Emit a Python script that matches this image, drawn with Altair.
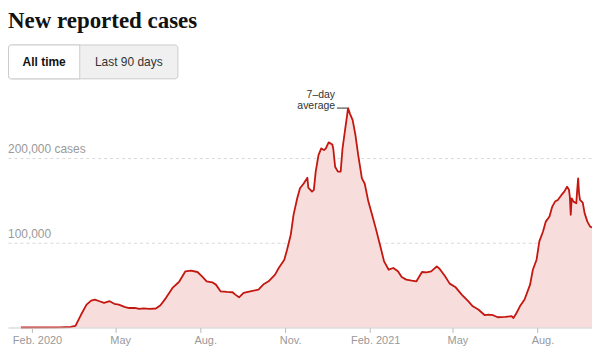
import altair as alt
import pandas as pd

# ---- data ----
# days since 2020-02-01, 7-day average of new reported cases
days = [-12, 30, 42, 47, 53, 59, 64, 68, 73, 78,
        84, 89, 94, 100, 105, 111, 116, 121, 127, 134,
        139, 145, 152, 159, 166, 172, 179, 184, 189, 195,
        199, 204, 211, 217, 220, 224, 229, 235, 245, 251,
        256, 263, 267, 273, 276, 280, 283, 287, 290, 294,
        298, 299, 303, 305, 307, 310, 313, 316, 318, 321,
        325, 326, 328, 331, 334, 336, 339, 341, 342, 344,
        347, 350, 353, 357, 360, 364, 368, 372, 377, 381,
        386, 391, 396, 400, 405, 411, 416, 422, 427, 432,
        438, 441, 447, 452, 458, 465, 472, 477, 483, 490,
        494, 499, 504, 512, 519, 521, 524, 528, 533, 539,
        542, 546, 549, 553, 556, 560, 563, 566, 569, 573,
        576, 579, 581, 582, 583, 584, 586, 589, 590, 591,
        592, 593, 596, 598, 601, 604, 606]
cases = [0, 200, 600, 2000, 15000, 27000, 31800, 33000, 31000, 29000,
         31000, 28000, 27000, 24300, 23000, 23200, 22000, 22500, 22000, 22400,
         26300, 35000, 46700, 53700, 66300, 67000, 65500, 60400, 54500, 53300,
         50600, 42700, 42000, 41600, 38800, 35600, 40800, 42400, 44700, 51400,
         54500, 62400, 70200, 80000, 91800, 109400, 133000, 152500, 164300, 170000,
         176800, 165000, 160400, 162400, 184000, 203500, 211400, 209400, 211400, 218500,
         216000, 211000, 189800, 184000, 184000, 211000, 235000, 250600, 259000, 252500,
         244700, 227000, 203500, 176000, 170000, 148600, 133000, 117000, 95600, 78000,
         68200, 70200, 66300, 59600, 56500, 55300, 54500, 65500, 65000, 66300,
         72200, 69400, 60400, 51800, 47900, 38800, 31000, 25000, 21200, 14500,
         15300, 14500, 12100, 12500, 13300, 11200, 16500, 25000, 33000, 50600,
         68200, 80000, 101600, 113300, 125000, 131000, 142700, 148600, 150600, 156500,
         160400, 166200, 163000, 154500, 133000, 152500, 148600, 146700, 162400, 176000,
         158500, 150600, 147400, 135000, 125000, 119000, 118000]

y_ticks = [100000, 200000]
y_labels = ["100,000", "200,000 cases"]
tick_dates = ["2020-02-01", "2020-05-01", "2020-08-01", "2020-11-01",
              "2021-02-01", "2021-05-01", "2021-08-01"]
tick_labels = ["Feb. 2020", "May", "Aug.", "Nov.", "Feb. 2021", "May", "Aug."]
title_text = "New reported cases"
buttons = ["All time", "Last 90 days"]
annotation_lines = ["7\u2013day", "average"]

# ---- build tables ----
start = pd.Timestamp("2020-02-01")
df = pd.DataFrame({"date": start + pd.to_timedelta(days, unit="D"), "cases": cases})

peak = df.loc[df["cases"].idxmax()]
ann = pd.DataFrame({
    "date": [peak["date"]],
    "cases": [peak["cases"]],
    "lead_start": [peak["date"] - pd.Timedelta(days=12)],
    "lead_end": [peak["date"] - pd.Timedelta(days=1)],
})
ylab = pd.DataFrame({"cases": y_ticks, "label": y_labels})

def dt(s):
    t = pd.Timestamp(s)
    return alt.DateTime(year=t.year, month=t.month, date=t.day)

label_expr = ""
for d, lab in zip(tick_dates, tick_labels):
    label_expr += f"timeFormat(datum.value, '%Y-%m-%d') == '{d}' ? '{lab}' : "
label_expr += "''"

x_domain = [dt("2020-01-06"), dt(df["date"].max())]

SANS = "Liberation Sans"
RED = "#c3170f"
PINK = "#f7dddc"

x_enc = alt.X("date:T",
              scale=alt.Scale(domain=x_domain),
              axis=alt.Axis(values=[dt(d) for d in tick_dates], labelExpr=label_expr,
                            title=None, grid=False, domainColor="#cccccc",
                            tickColor="#bbbbbb", tickSize=5, labelColor="#999999",
                            labelFont=SANS, labelFontSize=11, labelPadding=2,
                            labelOffset=5, labelAlign="center", zindex=1))
y_enc = alt.Y("cases:Q",
              scale=alt.Scale(domain=[0, 280000]),
              axis=alt.Axis(values=y_ticks, labels=False, ticks=False, domain=False,
                            title=None, grid=True, gridDash=[3, 3],
                            gridColor="#d8d8d8"))

area = alt.Chart(df).mark_area(color=PINK, interpolate="linear").encode(x=x_enc, y=y_enc)
line = alt.Chart(df).mark_line(color=RED, strokeWidth=1.8, strokeJoin="round").encode(
    x="date:T", y="cases:Q")

ylabels = alt.Chart(ylab).mark_text(align="left", baseline="alphabetic", dy=-5,
                                    font=SANS, fontSize=12, color="#999999").encode(
    x=alt.value(0), y="cases:Q", text="label:N")

ann_text = alt.Chart(ann).mark_text(align="right", baseline="alphabetic", dx=-13, dy=-10,
                                    lineHeight=11, font=SANS, fontSize=10.5,
                                    color="#333333").encode(
    x="date:T", y="cases:Q", text=alt.value(annotation_lines))
ann_rule = alt.Chart(ann).mark_rule(color="#333333", strokeWidth=1).encode(
    x="lead_start:T", x2="lead_end:T", y="cases:Q")

one = pd.DataFrame({"k": [0]})
title = alt.Chart(one).mark_text(align="left", baseline="alphabetic",
                                 font="Liberation Serif", fontWeight="bold",
                                 fontSize=23, color="#121212").encode(
    x=alt.value(0), y=alt.value(-63), text=alt.value(title_text))

btn_bg = alt.Chart(one).mark_rect(fill="#f0f0f0", stroke="#cccccc", strokeWidth=1,
                                  cornerRadius=3).encode(
    x=alt.value(0.5), x2=alt.value(170.5), y=alt.value(-45.5), y2=alt.value(-11.5))
btn_sel = alt.Chart(one).mark_rect(fill="#ffffff", stroke="#cccccc", strokeWidth=1,
                                   cornerRadiusTopLeft=3, cornerRadiusBottomLeft=3).encode(
    x=alt.value(0.5), x2=alt.value(72), y=alt.value(-45.5), y2=alt.value(-11.5))
btn1 = alt.Chart(one).mark_text(align="center", baseline="alphabetic", font=SANS,
                                fontSize=12, fontWeight="bold", color="#121212").encode(
    x=alt.value(36.3), y=alt.value(-24), text=alt.value(buttons[0]))
btn2 = alt.Chart(one).mark_text(align="center", baseline="alphabetic", font=SANS,
                                fontSize=12, color="#333333").encode(
    x=alt.value(121.2), y=alt.value(-24), text=alt.value(buttons[1]))

chart = alt.layer(area, line, ylabels, ann_rule, ann_text,
                  title, btn_bg, btn_sel, btn1, btn2).properties(
    width=586, height=238,
    padding={"left": 0, "top": 82, "right": 0, "bottom": 20},
    autosize=alt.AutoSizeParams(type="none"),
).configure_view(strokeWidth=0)

chart.save("out.html", embed_options={"renderer": "svg", "actions": False})
